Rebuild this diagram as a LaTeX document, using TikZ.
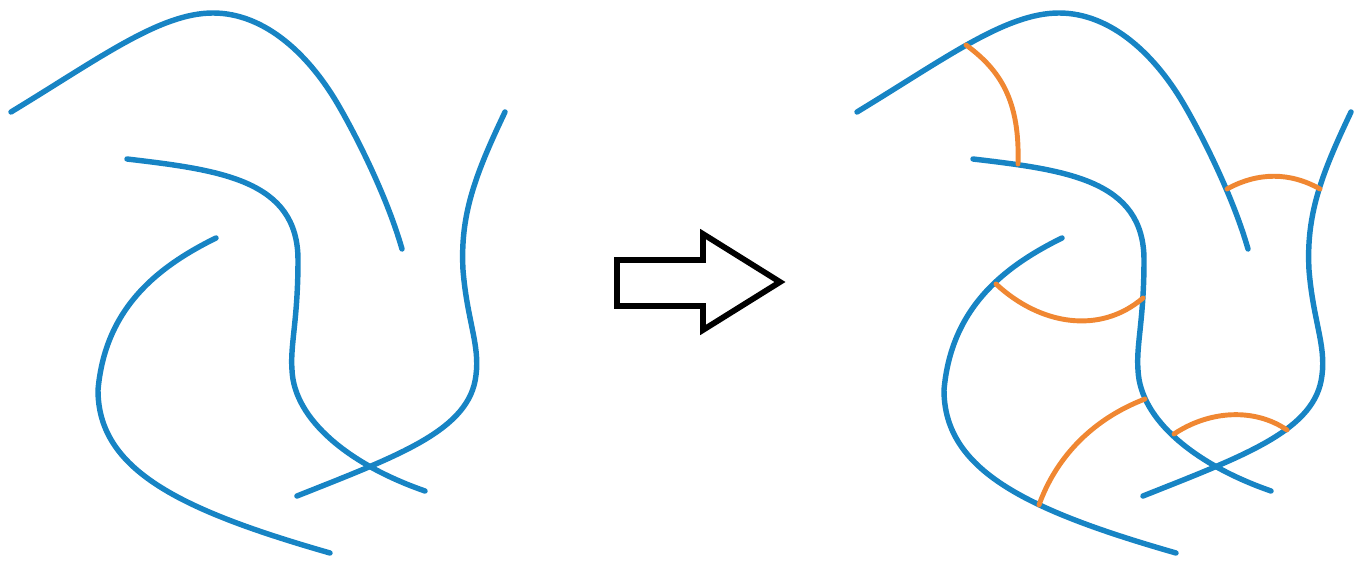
\documentclass[tikz,border=0pt]{standalone}
\usepackage{tikz}
\usetikzlibrary{positioning}
\definecolor{strandblue}{RGB}{23,132,196}
\definecolor{linkorange}{RGB}{240,135,50}
\tikzset{%
	strand/.style   = {strandblue, line width=3.1pt, line cap=round},
	link/.style     = {linkorange, line width=2.8pt, line cap=round},
	bigarrow/.style = {black, line width=3.3pt, line join=miter},
}
% the four loose strands, in pixel units
\newcommand{\fourstrands}{%
	\draw[strand] (11,112) .. controls (100,58) and (160,13) .. (213,13)
		.. controls (265,13) and (310,55) .. (340,108)
		.. controls (360,143) and (388,200) .. (402,249);
	\draw[strand] (127,159) .. controls (220,170) and (298,180) .. (298,260)
		.. controls (298,320) and (290,345) .. (292,370)
		.. controls (294,420) and (350,465) .. (425,491);
	\draw[strand] (216,238) .. controls (155,268) and (105,310) .. (98,390)
		.. controls (98,470) and (180,510) .. (330,553);
	\draw[strand] (505,112) .. controls (475,175) and (460,215) .. (463,270)
		.. controls (467,320) and (480,345) .. (476,375)
		.. controls (470,430) and (400,455) .. (297,496);
}

\begin{document}
\begin{tikzpicture}[x=0.02cm,y=-0.02cm]
	\useasboundingbox (0,0) rectangle (1366,573);
	% before
	\fourstrands
	% arrow
	\draw[bigarrow] (617,260) -- (703,260) -- (703,234) -- (780,282) -- (703,330) -- (703,306) -- (617,306) -- cycle;
	% after
	\begin{scope}[shift={(846,0)}]
		\fourstrands
	\end{scope}
	\coordinate (topA) at (966,45);
	\coordinate (topB) at (1018,164);
	\coordinate (armA) at (1227,189);
	\coordinate (armD) at (1320,189);
	\coordinate (midC) at (996,284);
	\coordinate (midB) at (1143,298);
	\coordinate (lowC) at (1039,505);
	\coordinate (lowB) at (1145,399);
	\coordinate (botB) at (1174,434);
	\coordinate (botD) at (1287,430);
	\draw[link] (topA) .. controls (1000,70) and (1020,100) .. (topB);
	\draw[link] (armA) .. controls (1258,172) and (1290,172) .. (armD);
	\draw[link] (midC) .. controls (1040,325) and (1100,335) .. (midB);
	\draw[link] (lowC) .. controls (1055,460) and (1090,420) .. (lowB);
	\draw[link] (botB) .. controls (1210,410) and (1255,408) .. (botD);
\end{tikzpicture}
\end{document}
